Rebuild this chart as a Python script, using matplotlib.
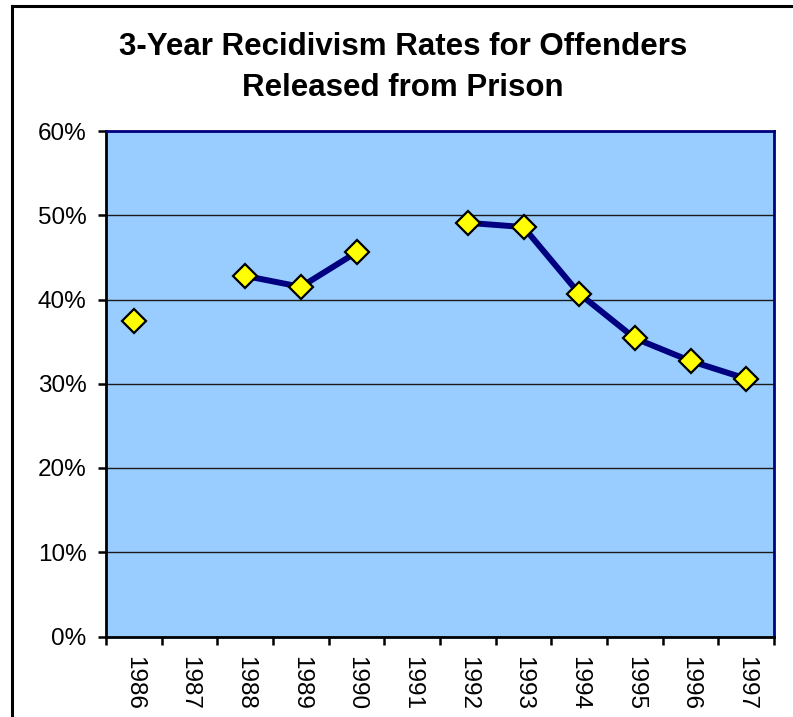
import numpy as np
import matplotlib.pyplot as plt
from matplotlib.lines import Line2D
from matplotlib.ticker import FuncFormatter, MultipleLocator

plt.rcParams['font.family'] = ['Liberation Sans', 'DejaVu Sans']

years = ['1986', '1987', '1988', '1989', '1990', '1991',
         '1992', '1993', '1994', '1995', '1996', '1997']
rates = [37.5, np.nan, 42.8, 41.5, 45.6, np.nan,
         49.1, 48.6, 40.7, 35.4, 32.7, 30.6]

fig = plt.figure(figsize=(7.93, 7.17), dpi=100)
ax = fig.add_axes([106 / 793, 1 - 636.5 / 717, 668 / 793, 505.5 / 717])
ax.set_facecolor('#99CCFF')

x = np.arange(len(years))
ax.plot(x, rates, color='#000080', lw=4.3, marker='D', ms=12,
        mfc='#FFFF00', mec='black', mew=1.6, zorder=3, clip_on=False)

ax.set_xlim(-0.5, len(years) - 0.5)
ax.set_ylim(0, 60)
ax.yaxis.set_major_locator(MultipleLocator(10))
ax.yaxis.set_major_formatter(FuncFormatter(lambda v, p: f'{v:.0f}%'))
ax.grid(axis='y', color='#1a1a1a', lw=1.0, zorder=1)
ax.set_axisbelow(True)

ax.set_xticks(x)
ax.set_xticklabels(years, rotation=270, fontsize=17.5)
ax.set_xticks(np.arange(-0.5, len(years)), minor=True)
ax.tick_params(axis='x', which='major', length=0, pad=14)
ax.tick_params(axis='x', which='minor', length=6, width=1.8, direction='out')
ax.tick_params(axis='y', length=6, width=1.8, pad=8, labelsize=17.5)

for s in ['left', 'bottom']:
    ax.spines[s].set_color('black')
    ax.spines[s].set_linewidth(2.0)
for s in ['top', 'right']:
    ax.spines[s].set_color('#000080')
    ax.spines[s].set_linewidth(2.0)

fig.text(403 / 793, 1 - 47 / 717, '3-Year Recidivism Rates for Offenders',
         ha='center', va='center', fontsize=22.5, fontweight='bold')
fig.text(403 / 793, 1 - 88 / 717, 'Released from Prison',
         ha='center', va='center', fontsize=22.5, fontweight='bold')

# chart border (only top and left visible in the crop)
fig.add_artist(Line2D([12 / 793, 1], [1 - 6 / 717, 1 - 6 / 717],
                      color='black', lw=2.2, transform=fig.transFigure))
fig.add_artist(Line2D([12 / 793, 12 / 793], [0, 1 - 6 / 717],
                      color='black', lw=2.2, transform=fig.transFigure))

fig.savefig('out.png', dpi=100)
